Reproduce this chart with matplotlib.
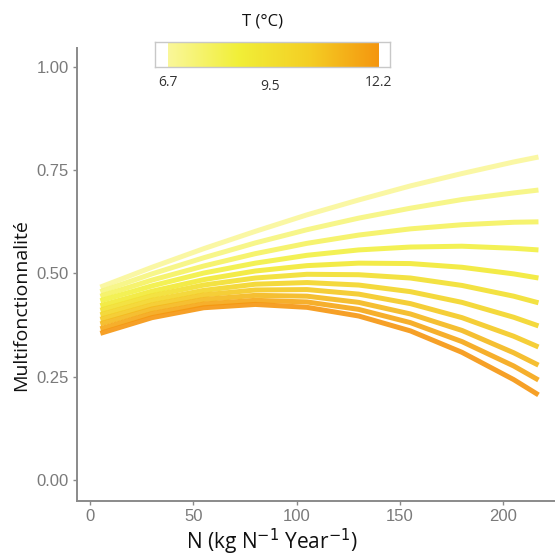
import numpy as np
import matplotlib
matplotlib.use("Agg")
import matplotlib.pyplot as plt
from matplotlib.colors import LinearSegmentedColormap, Normalize

# ---- data ----
n_values = [5, 30, 55, 80, 105, 130, 155, 180, 205, 217]
temperatures = [6.7, 7.25, 7.8, 8.35, 8.9, 9.45, 10.0, 10.55, 11.1, 11.65, 12.2]
curve_t0 = [0.467, 0.515, 0.560, 0.602, 0.642, 0.678, 0.712, 0.742, 0.770, 0.782]
curve_t1 = [0.456, 0.499, 0.538, 0.574, 0.606, 0.634, 0.658, 0.679, 0.695, 0.702]
curve_t2 = [0.445, 0.484, 0.518, 0.548, 0.573, 0.593, 0.608, 0.618, 0.624, 0.625]
curve_t3 = [0.434, 0.470, 0.501, 0.525, 0.544, 0.557, 0.564, 0.566, 0.561, 0.557]
curve_t4 = [0.422, 0.457, 0.485, 0.506, 0.519, 0.525, 0.524, 0.515, 0.499, 0.489]
curve_t5 = [0.411, 0.446, 0.472, 0.489, 0.498, 0.497, 0.489, 0.471, 0.445, 0.429]
curve_t6 = [0.400, 0.435, 0.459, 0.474, 0.478, 0.472, 0.456, 0.430, 0.394, 0.373]
curve_t7 = [0.389, 0.424, 0.448, 0.460, 0.461, 0.450, 0.427, 0.393, 0.348, 0.322]
curve_t8 = [0.378, 0.414, 0.437, 0.447, 0.445, 0.430, 0.402, 0.362, 0.308, 0.278]
curve_t9 = [0.366, 0.403, 0.426, 0.435, 0.431, 0.413, 0.381, 0.335, 0.276, 0.242]
curve_t10 = [0.355, 0.393, 0.417, 0.425, 0.418, 0.397, 0.361, 0.309, 0.243, 0.206]
curves = [curve_t0, curve_t1, curve_t2, curve_t3, curve_t4, curve_t5,
          curve_t6, curve_t7, curve_t8, curve_t9, curve_t10]

x_ticks = [0, 50, 100, 150, 200]
y_ticks = [0.00, 0.25, 0.50, 0.75, 1.00]
y_ticklabels = ["0.00", "0.25", "0.50", "0.75", "1.00"]
cbar_ticks = [6.7, 9.5, 12.2]
cbar_ticklabels = ["6.7", "9.5", "12.2"]

# ---- figure ----
W, H = 555, 556
fig = plt.figure(figsize=(W / 100, H / 100), dpi=100)
fig.patch.set_facecolor("white")

cmap = LinearSegmentedColormap.from_list(
    "temp", ["#FAF79A", "#F1EF38", "#F4CF24", "#F5960F"])
norm = Normalize(vmin=6.7, vmax=12.2)

ax = fig.add_axes([77 / W, 1 - 501 / H, (W - 77) / W, (501 - 48) / H])
for t, c in zip(temperatures, curves):
    ax.plot(n_values, c, color=cmap(norm(t)), lw=3.6, alpha=0.9,
            solid_capstyle="butt", solid_joinstyle="round")

ax.set_xlim(-6.3, 225)
ax.set_ylim(-0.051, 1.046)
ax.set_xticks(x_ticks)
ax.set_yticks(y_ticks)
ax.set_yticklabels(y_ticklabels)
for s in ["top", "right"]:
    ax.spines[s].set_visible(False)
for s in ["left", "bottom"]:
    ax.spines[s].set_color("#8a8a8a")
    ax.spines[s].set_linewidth(1.4)
ax.tick_params(axis="both", colors="#8a8a8a", length=3, width=1.0,
               labelsize=12, labelcolor="#7a7a7a", pad=3)
for lab in ax.get_xticklabels() + ax.get_yticklabels():
    lab.set_fontfamily("Liberation Sans")

fig.text(272 / W, 1 - 542 / H, "N (kg N$^{-1}$ Year$^{-1}$)",
         ha="center", va="center", fontsize=15, color="#111111",
         family="Open Sans")
fig.text(21 / W, 1 - 305 / H, "Multifonctionnalité", rotation=90,
         ha="center", va="center", fontsize=14, color="#111111",
         family="Open Sans")

# ---- colour bar ----
cax = fig.add_axes([155 / W, 1 - 67 / H, 235 / W, 25 / H])
grad = np.linspace(6.7, 12.2, 256).reshape(1, -1)
cax.imshow(grad, cmap=cmap, norm=norm, aspect="auto",
           extent=[6.7, 12.2, 0, 1])
cax.set_xlim(6.35, 12.5)
cax.set_ylim(0, 1)
cax.set_xticks([])
cax.set_yticks([])
for s in cax.spines.values():
    s.set_color("#c8c8c8")
    s.set_linewidth(1.0)

label_px = [168, 270, 378]
label_py = [82, 86, 82]
for lp, lpy, lt in zip(label_px, label_py, cbar_ticklabels):
    fig.text(lp / W, 1 - lpy / H, lt, ha="center", va="center",
             fontsize=10, color="#333333", family="Open Sans")
fig.text(263 / W, 1 - 22 / H, "T (°C)", ha="center", va="center",
         fontsize=12, color="#111111", family="Open Sans")

fig.savefig("out.png", dpi=100, facecolor="white")
